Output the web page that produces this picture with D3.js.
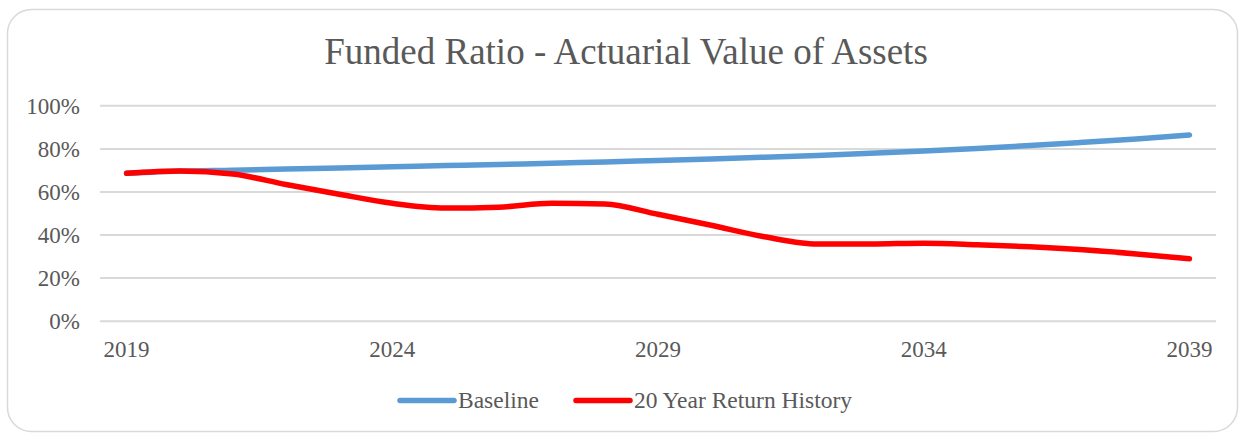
<!DOCTYPE html>
<html>
<head>
<meta charset="utf-8">
<script src="https://cdn.jsdelivr.net/npm/d3@7"></script>
<style>
  html, body { margin: 0; padding: 0; background: #fff; }
  svg { display: block; }
  text { font-family: "Liberation Serif", "Times New Roman", serif; fill: #595959; }
</style>
</head>
<body>
<svg id="chart" width="1239" height="433"></svg>
<script>
const title = "Funded Ratio - Actuarial Value of Assets";
const years = [2019,2020,2021,2022,2023,2024,2025,2026,2027,2028,2029,2030,2031,2032,2033,2034,2035,2036,2037,2038,2039];
const xTickLabels = [2019, 2024, 2029, 2034, 2039];
const yTicks = [0, 0.2, 0.4, 0.6, 0.8, 1.0];
const seriesNames = ["Baseline", "20 Year Return History"];
const seriesColors = ["#5B9BD5", "#FF0000"];
const baseline = [0.684,0.695,0.699,0.704,0.709,0.715,0.720,0.725,0.731,0.737,0.744,0.751,0.759,0.767,0.777,0.788,0.800,0.813,0.828,0.844,0.862];
const history20 = [0.684,0.695,0.681,0.632,0.587,0.545,0.523,0.527,0.545,0.542,0.494,0.443,0.390,0.356,0.356,0.360,0.353,0.343,0.329,0.310,0.288];

const svg = d3.select("#chart");

// Outer rounded border
svg.append("rect")
  .attr("x", 7.5).attr("y", 9.5)
  .attr("width", 1230).attr("height", 422)
  .attr("rx", 24).attr("ry", 24)
  .attr("fill", "#fff")
  .attr("stroke", "#D9D9D9").attr("stroke-width", 1.5);

// Title
svg.append("text")
  .attr("x", 626).attr("y", 64)
  .attr("text-anchor", "middle")
  .attr("font-size", 37)
  .text(title);

const plot = { left: 100, right: 1216, top: 105.3, bottom: 320.7 };

const x = d3.scaleBand().domain(years).range([plot.left, plot.right]).padding(0);
const xc = d => x(d) + x.bandwidth() / 2;
const y = d3.scaleLinear().domain([0, 1]).range([plot.bottom, plot.top]);

// Gridlines + y labels
const yAxis = d3.axisLeft(y).tickValues(yTicks).tickFormat(d3.format(".0%"))
  .tickSize(-(plot.right - plot.left)).tickPadding(20);
const gy = svg.append("g").attr("transform", `translate(${plot.left},0)`).call(yAxis);
gy.select(".domain").remove();
gy.selectAll(".tick line").attr("stroke", "#D9D9D9").attr("stroke-width", 2);
gy.selectAll(".tick text").attr("font-size", 23).attr("fill", "#595959")
  .attr("font-family", "Liberation Serif, serif").attr("dy", "0.34em");

// X axis labels
const xAxis = d3.axisBottom(x).tickValues(xTickLabels).tickSize(0).tickPadding(20);
const gx = svg.append("g").attr("transform", `translate(0,${plot.bottom})`).call(xAxis);
gx.select(".domain").remove();
gx.selectAll(".tick text").attr("font-size", 23).attr("fill", "#595959")
  .attr("font-family", "Liberation Serif, serif");

// Lines
const line = d3.line().x((d, i) => xc(years[i])).y(d => y(d)).curve(d3.curveMonotoneX);
[baseline, history20].forEach((s, k) => {
  svg.append("path")
    .datum(s)
    .attr("d", line)
    .attr("fill", "none")
    .attr("stroke", seriesColors[k])
    .attr("stroke-width", 5.5)
    .attr("stroke-linecap", "round")
    .attr("stroke-linejoin", "round");
});

// Legend
const legendItems = [
  { x1: 400, x2: 454, tx: 458 },
  { x1: 576, x2: 630, tx: 634 }
];
legendItems.forEach((it, k) => {
  svg.append("line")
    .attr("x1", it.x1).attr("x2", it.x2)
    .attr("y1", 400.5).attr("y2", 400.5)
    .attr("stroke", seriesColors[k]).attr("stroke-width", 5.5)
    .attr("stroke-linecap", "round");
  svg.append("text")
    .attr("x", it.tx).attr("y", 408)
    .attr("font-size", 23.5)
    .text(seriesNames[k]);
});
</script>
</body>
</html>
